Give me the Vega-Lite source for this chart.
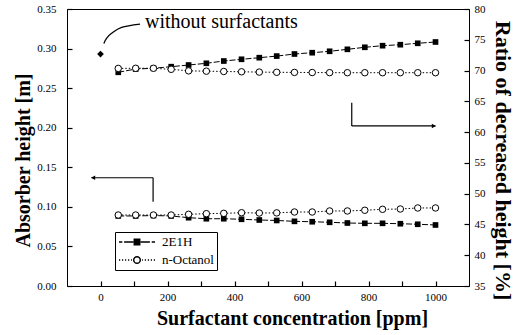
{
  "$schema": "https://vega.github.io/schema/vega-lite/v6.json",
  "width": 402,
  "height": 277,
  "autosize": {"type": "none"},
  "padding": {"left": 67, "top": 9, "right": 46, "bottom": 49},
  "background": "white",
  "config": {
    "view": {"stroke": "black", "strokeWidth": 1},
    "font": "Liberation Serif",
    "axis": {
      "labelFont": "Liberation Serif", "labelFontSize": 11, "labelColor": "black",
      "titleFont": "Liberation Serif", "titleFontWeight": "bold", "titleFontSize": 20, "titleColor": "black",
      "grid": false, "labelFlush": false, "labelBound": false
    }
  },
  "datasets": {
    "height": [
      {"ppm": 53, "value": 0.0885, "series": "2E1H"},
      {"ppm": 105, "value": 0.0885, "series": "2E1H"},
      {"ppm": 158, "value": 0.0890, "series": "2E1H"},
      {"ppm": 211, "value": 0.0885, "series": "2E1H"},
      {"ppm": 263, "value": 0.0863, "series": "2E1H"},
      {"ppm": 316, "value": 0.0850, "series": "2E1H"},
      {"ppm": 368, "value": 0.0850, "series": "2E1H"},
      {"ppm": 421, "value": 0.0843, "series": "2E1H"},
      {"ppm": 474, "value": 0.0834, "series": "2E1H"},
      {"ppm": 526, "value": 0.0828, "series": "2E1H"},
      {"ppm": 579, "value": 0.0817, "series": "2E1H"},
      {"ppm": 632, "value": 0.0812, "series": "2E1H"},
      {"ppm": 684, "value": 0.0805, "series": "2E1H"},
      {"ppm": 737, "value": 0.0796, "series": "2E1H"},
      {"ppm": 789, "value": 0.0792, "series": "2E1H"},
      {"ppm": 842, "value": 0.0792, "series": "2E1H"},
      {"ppm": 895, "value": 0.0787, "series": "2E1H"},
      {"ppm": 947, "value": 0.0780, "series": "2E1H"},
      {"ppm": 1000, "value": 0.0771, "series": "2E1H"},
      {"ppm": 53, "value": 0.0897, "series": "n-Octanol"},
      {"ppm": 105, "value": 0.0897, "series": "n-Octanol"},
      {"ppm": 158, "value": 0.0897, "series": "n-Octanol"},
      {"ppm": 211, "value": 0.0897, "series": "n-Octanol"},
      {"ppm": 263, "value": 0.0906, "series": "n-Octanol"},
      {"ppm": 316, "value": 0.0914, "series": "n-Octanol"},
      {"ppm": 368, "value": 0.0918, "series": "n-Octanol"},
      {"ppm": 421, "value": 0.0926, "series": "n-Octanol"},
      {"ppm": 474, "value": 0.0922, "series": "n-Octanol"},
      {"ppm": 526, "value": 0.0924, "series": "n-Octanol"},
      {"ppm": 579, "value": 0.0935, "series": "n-Octanol"},
      {"ppm": 632, "value": 0.0935, "series": "n-Octanol"},
      {"ppm": 684, "value": 0.0948, "series": "n-Octanol"},
      {"ppm": 737, "value": 0.0948, "series": "n-Octanol"},
      {"ppm": 789, "value": 0.0957, "series": "n-Octanol"},
      {"ppm": 842, "value": 0.0969, "series": "n-Octanol"},
      {"ppm": 895, "value": 0.0973, "series": "n-Octanol"},
      {"ppm": 947, "value": 0.0986, "series": "n-Octanol"},
      {"ppm": 1000, "value": 0.0986, "series": "n-Octanol"}
    ],
    "ratio": [
      {"ppm": 53, "value": 69.72, "series": "2E1H"},
      {"ppm": 105, "value": 70.25, "series": "2E1H"},
      {"ppm": 158, "value": 70.37, "series": "2E1H"},
      {"ppm": 211, "value": 70.63, "series": "2E1H"},
      {"ppm": 263, "value": 70.90, "series": "2E1H"},
      {"ppm": 316, "value": 71.18, "series": "2E1H"},
      {"ppm": 368, "value": 71.55, "series": "2E1H"},
      {"ppm": 421, "value": 71.83, "series": "2E1H"},
      {"ppm": 474, "value": 72.09, "series": "2E1H"},
      {"ppm": 526, "value": 72.35, "series": "2E1H"},
      {"ppm": 579, "value": 72.69, "series": "2E1H"},
      {"ppm": 632, "value": 72.90, "series": "2E1H"},
      {"ppm": 684, "value": 73.13, "series": "2E1H"},
      {"ppm": 737, "value": 73.45, "series": "2E1H"},
      {"ppm": 789, "value": 73.78, "series": "2E1H"},
      {"ppm": 842, "value": 74.04, "series": "2E1H"},
      {"ppm": 895, "value": 74.20, "series": "2E1H"},
      {"ppm": 947, "value": 74.43, "series": "2E1H"},
      {"ppm": 1000, "value": 74.64, "series": "2E1H"},
      {"ppm": 53, "value": 70.35, "series": "n-Octanol"},
      {"ppm": 105, "value": 70.37, "series": "n-Octanol"},
      {"ppm": 158, "value": 70.37, "series": "n-Octanol"},
      {"ppm": 211, "value": 70.2, "series": "n-Octanol"},
      {"ppm": 263, "value": 69.95, "series": "n-Octanol"},
      {"ppm": 316, "value": 69.9, "series": "n-Octanol"},
      {"ppm": 368, "value": 69.85, "series": "n-Octanol"},
      {"ppm": 421, "value": 69.8, "series": "n-Octanol"},
      {"ppm": 474, "value": 69.75, "series": "n-Octanol"},
      {"ppm": 526, "value": 69.72, "series": "n-Octanol"},
      {"ppm": 579, "value": 69.7, "series": "n-Octanol"},
      {"ppm": 632, "value": 69.68, "series": "n-Octanol"},
      {"ppm": 684, "value": 69.66, "series": "n-Octanol"},
      {"ppm": 737, "value": 69.65, "series": "n-Octanol"},
      {"ppm": 789, "value": 69.65, "series": "n-Octanol"},
      {"ppm": 842, "value": 69.65, "series": "n-Octanol"},
      {"ppm": 895, "value": 69.65, "series": "n-Octanol"},
      {"ppm": 947, "value": 69.65, "series": "n-Octanol"},
      {"ppm": 1000, "value": 69.65, "series": "n-Octanol"}
    ],
    "ref": [{"ppm": 0, "value": 0.293}],
    "curve": [
      {"i": 0, "ppm": 118, "value": 0.331},
      {"i": 1, "ppm": 63, "value": 0.3269},
      {"i": 2, "ppm": 33, "value": 0.3193},
      {"i": 3, "ppm": 18, "value": 0.313},
      {"i": 4, "ppm": 10, "value": 0.3065}
    ],
    "note": [{"ppm": 133, "value": 0.326, "label": "without surfactants"}],
    "rules": [
      {"ppm": 750, "ppm2": 750, "value": 0.2316, "value2": 0.2022},
      {"ppm": 750, "ppm2": 1000, "value": 0.2022, "value2": 0.2022},
      {"ppm": -27, "ppm2": 157, "value": 0.1368, "value2": 0.1368},
      {"ppm": 157, "ppm2": 157, "value": 0.1368, "value2": 0.1065}
    ],
    "headRight": [{"ppm": 995, "value": 0.2022}],
    "headLeft": [{"ppm": -22, "value": 0.1368}]
  },
  "layer": [
    {
      "layer": [
        {
          "data": {"name": "height"},
          "transform": [{"filter": "datum.series === '2E1H'"}],
          "mark": {"type": "line", "color": "black", "strokeWidth": 1, "strokeDash": [6, 2]},
          "encoding": {
            "x": {
              "field": "ppm", "type": "quantitative",
              "scale": {"domain": [-100, 1100], "nice": false, "zero": false},
              "axis": {
                "title": "Surfactant concentration [ppm]",
                "titleX": 225,
                "values": [0, 100, 200, 300, 400, 500, 600, 700, 800, 900, 1000],
                "labelExpr": "datum.value % 200 === 0 ? datum.label : ''",
                "format": "d",
                "domain": false, "zindex": 2,
                "ticks": true, "tickColor": "black", "tickOpacity": 1, "tickWidth": 1.2, "tickSize": 5, "offset": -5,
                "labelOverlap": false,
                "labelPadding": 5,
                "titlePadding": 6
              }
            },
            "y": {
              "field": "value", "type": "quantitative",
              "scale": {"domain": [0, 0.35], "nice": false, "zero": false},
              "axis": {
                "title": "Absorber height [m]",
                "titleY": 151,
                "orient": "left",
                "tickCount": 7,
                "format": ".2f",
                "domain": false, "zindex": 2,
                "ticks": true, "tickColor": "black", "tickOpacity": 1, "tickWidth": 1.2, "tickSize": 5, "offset": -5,
                "labelOverlap": false,
                "labelPadding": 11,
                "titlePadding": 3
              }
            }
          }
        },
        {
          "data": {"name": "height"},
          "transform": [{"filter": "datum.series === 'n-Octanol'"}],
          "mark": {"type": "line", "color": "black", "strokeWidth": 1, "strokeDash": [1.5, 2]},
          "encoding": {
            "x": {"field": "ppm", "type": "quantitative"},
            "y": {"field": "value", "type": "quantitative"}
          }
        },
        {
          "data": {"name": "height"},
          "transform": [{"filter": "datum.series === '2E1H'"}],
          "mark": {"type": "point", "shape": "square", "filled": true, "color": "black", "size": 32, "opacity": 1},
          "encoding": {
            "x": {"field": "ppm", "type": "quantitative"},
            "y": {"field": "value", "type": "quantitative"}
          }
        },
        {
          "data": {"name": "height"},
          "transform": [{"filter": "datum.series === 'n-Octanol'"}],
          "mark": {"type": "point", "shape": "circle", "filled": true, "fill": "white", "stroke": "black", "strokeWidth": 1, "size": 42, "opacity": 1},
          "encoding": {
            "x": {"field": "ppm", "type": "quantitative"},
            "y": {"field": "value", "type": "quantitative"}
          }
        },
        {
          "data": {"name": "ref"},
          "mark": {"type": "point", "shape": "diamond", "filled": true, "color": "black", "size": 45, "opacity": 1},
          "encoding": {
            "x": {"field": "ppm", "type": "quantitative"},
            "y": {"field": "value", "type": "quantitative"}
          }
        },
        {
          "data": {"name": "curve"},
          "mark": {"type": "line", "color": "black", "strokeWidth": 1.3, "interpolate": "cardinal"},
          "encoding": {
            "x": {"field": "ppm", "type": "quantitative"},
            "y": {"field": "value", "type": "quantitative"},
            "order": {"field": "i", "type": "quantitative"}
          }
        },
        {
          "data": {"name": "note"},
          "mark": {"type": "text", "align": "left", "baseline": "alphabetic", "font": "Liberation Serif", "fontSize": 20, "color": "black"},
          "encoding": {
            "x": {"field": "ppm", "type": "quantitative"},
            "y": {"field": "value", "type": "quantitative"},
            "text": {"field": "label"}
          }
        },
        {
          "data": {"name": "rules"},
          "mark": {"type": "rule", "color": "black", "strokeWidth": 1.2},
          "encoding": {
            "x": {"field": "ppm", "type": "quantitative"},
            "x2": {"field": "ppm2"},
            "y": {"field": "value", "type": "quantitative"},
            "y2": {"field": "value2"}
          }
        },
        {
          "data": {"name": "headRight"},
          "mark": {"type": "point", "shape": "triangle-right", "filled": true, "color": "black", "size": 22, "opacity": 1},
          "encoding": {
            "x": {"field": "ppm", "type": "quantitative"},
            "y": {"field": "value", "type": "quantitative"}
          }
        },
        {
          "data": {"name": "headLeft"},
          "mark": {"type": "point", "shape": "triangle-left", "filled": true, "color": "black", "size": 22, "opacity": 1},
          "encoding": {
            "x": {"field": "ppm", "type": "quantitative"},
            "y": {"field": "value", "type": "quantitative"}
          }
        },
        {
          "data": {"name": "height"},
          "transform": [{"filter": "false"}],
          "mark": {"type": "point", "filled": true, "stroke": "black", "strokeWidth": 1, "opacity": 1},
          "encoding": {
            "x": {"field": "ppm", "type": "quantitative"},
            "y": {"field": "value", "type": "quantitative"},
            "shape": {
              "field": "series", "type": "nominal",
              "scale": {
                "domain": ["2E1H", "n-Octanol"],
                "range": [
                  "M-1,0H-0.45M-0.15,0H1.4M1.55,-0.45H2.45V0.45H1.55ZM2.6,0H4.15M4.45,0H5",
                  "M-1,0H-0.8M-0.5,0H-0.3M0,0H0.2M0.5,0H0.7M1,0H1.15M2.55,0C2.55,0.3 2.3,0.55 2,0.55C1.7,0.55 1.45,0.3 1.45,0C1.45,-0.3 1.7,-0.55 2,-0.55C2.3,-0.55 2.55,-0.3 2.55,0ZM2.85,0H3M3.3,0H3.5M3.8,0H4M4.3,0H4.5M4.8,0H5"
                ]
              },
              "legend": {
                "title": null, "orient": "none", "legendX": 48, "legendY": 223,
                "strokeColor": "black", "fillColor": "white", "padding": 3,
                "labelFont": "Liberation Serif", "labelFontSize": 13, "labelColor": "black",
                "symbolSize": 144, "labelOffset": 30, "rowPadding": 4,
                "encode": {"symbols": {"update": {"stroke": {"value": "black"}, "strokeWidth": {"value": 1}, "opacity": {"value": 1}}}}
              }
            },
            "fill": {
              "field": "series", "type": "nominal",
              "scale": {"domain": ["2E1H", "n-Octanol"], "range": ["black", "white"]},
              "legend": {
                "title": null, "orient": "none", "legendX": 48, "legendY": 223,
                "strokeColor": "black", "fillColor": "white", "padding": 3,
                "labelFont": "Liberation Serif", "labelFontSize": 13, "labelColor": "black",
                "symbolSize": 144, "labelOffset": 30, "rowPadding": 4,
                "encode": {"symbols": {"update": {"stroke": {"value": "black"}, "strokeWidth": {"value": 1}, "opacity": {"value": 1}}}}
              }
            }
          }
        }
      ]
    },
    {
      "layer": [
        {
          "data": {"name": "ratio"},
          "transform": [{"filter": "datum.series === '2E1H'"}],
          "mark": {"type": "line", "color": "black", "strokeWidth": 1, "strokeDash": [6, 2]},
          "encoding": {
            "x": {"field": "ppm", "type": "quantitative"},
            "y": {
              "field": "value", "type": "quantitative",
              "scale": {"domain": [35, 80], "nice": false, "zero": false},
              "axis": {
                "title": "Ratio of decreased height [%]",
                "titleFontSize": 22,
                "titleY": 151,
                "orient": "right",
                "tickCount": 10,
                "domain": false, "zindex": 2,
                "ticks": true, "tickColor": "black", "tickOpacity": 1, "tickWidth": 1.2, "tickSize": 5, "offset": -5,
                "labelOverlap": false,
                "labelPadding": 5,
                "titlePadding": 5
              }
            }
          }
        },
        {
          "data": {"name": "ratio"},
          "transform": [{"filter": "datum.series === 'n-Octanol'"}],
          "mark": {"type": "line", "color": "black", "strokeWidth": 1, "strokeDash": [1.5, 2]},
          "encoding": {
            "x": {"field": "ppm", "type": "quantitative"},
            "y": {"field": "value", "type": "quantitative"}
          }
        },
        {
          "data": {"name": "ratio"},
          "transform": [{"filter": "datum.series === '2E1H'"}],
          "mark": {"type": "point", "shape": "square", "filled": true, "color": "black", "size": 32, "opacity": 1},
          "encoding": {
            "x": {"field": "ppm", "type": "quantitative"},
            "y": {"field": "value", "type": "quantitative"}
          }
        },
        {
          "data": {"name": "ratio"},
          "transform": [{"filter": "datum.series === 'n-Octanol'"}],
          "mark": {"type": "point", "shape": "circle", "filled": true, "fill": "white", "stroke": "black", "strokeWidth": 1, "size": 42, "opacity": 1},
          "encoding": {
            "x": {"field": "ppm", "type": "quantitative"},
            "y": {"field": "value", "type": "quantitative"}
          }
        }
      ]
    }
  ],
  "resolve": {"scale": {"y": "independent"}}
}
